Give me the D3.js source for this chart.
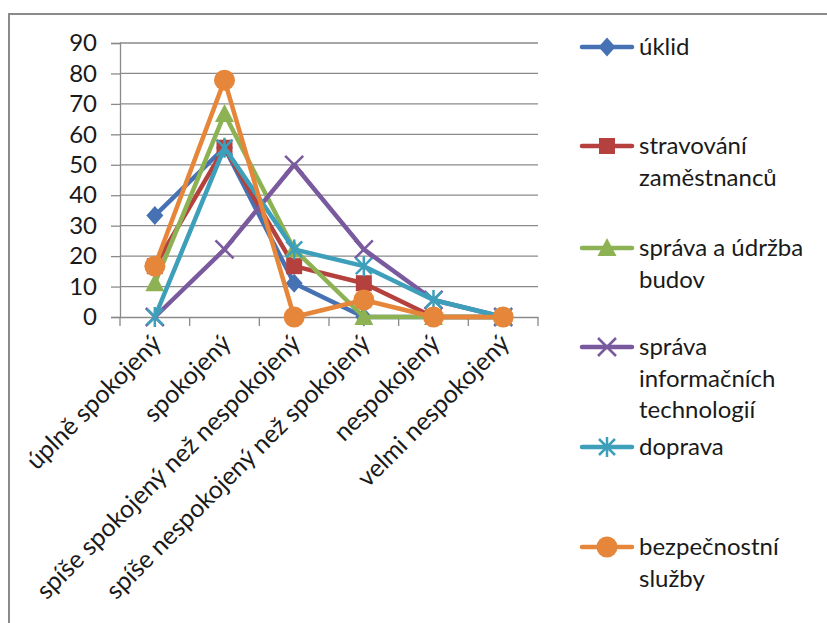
<!DOCTYPE html>
<html>
<head>
<meta charset="utf-8">
<script src="https://cdn.jsdelivr.net/npm/d3@7"></script>
<style>
  html, body { margin: 0; padding: 0; background: #fff; }
  svg text { font-family: Lato, "Open Sans", sans-serif; fill: #1a1a1a; }
</style>
</head>
<body>
<svg id="chart" width="827" height="623"></svg>
<script>
// ---- data ----
const categories = ["úplně spokojený", "spokojený", "spíše spokojený než nespokojený",
  "spíše nespokojený než spokojený", "nespokojený", "velmi nespokojený"];
const seriesNames = ["úklid", "stravování zaměstnanců", "správa a údržba budov",
  "správa informačních technologií", "doprava", "bezpečnostní služby"];
const legendLines = [["úklid"], ["stravování", "zaměstnanců"], ["správa a údržba", "budov"],
  ["správa", "informačních", "technologií"], ["doprava"], ["bezpečnostní", "služby"]];
const uklid = [33.3, 55.6, 11.1, 0, 0, 0];
const stravovani = [16.7, 55.6, 16.7, 11.1, 0, 0];
const budovy = [11.1, 66.7, 22.2, 0, 0, 0];
const it = [0, 22.2, 50, 22.2, 5.6, 0];
const doprava = [0, 55.6, 22.2, 16.7, 5.6, 0];
const bezpecnost = [16.7, 77.8, 0, 5.6, 0, 0];
const yTicks = [0, 10, 20, 30, 40, 50, 60, 70, 80, 90];

const seriesValues = [uklid, stravovani, budovy, it, doprava, bezpecnost];
const colors = ["#4672B4", "#B5413E", "#8DB254", "#7A5A9E", "#3E9FBB", "#E5863A"];
const markers = ["diamond", "square", "triangle", "x", "star", "circle"];

const svg = d3.select("#chart");

// outer border (top + left visible)
svg.append("path").attr("d", "M9,623 V14 H827")
  .attr("fill", "none").attr("stroke", "#8a8a8a").attr("stroke-width", 2);

const x = d3.scaleBand().domain(categories).range([120, 538]).padding(0);
const y = d3.scaleLinear().domain([0, 90]).range([317, 43]);
const cx = c => x(c) + x.bandwidth() / 2;

// gridlines + y axis
const yAxis = d3.axisLeft(y).tickValues(yTicks).tickSize(9).tickPadding(14);
const gy = svg.append("g").attr("transform", "translate(120,0)").call(yAxis);
gy.select(".domain").attr("stroke", "#8a8a8a").attr("stroke-width", 1.3);
gy.selectAll(".tick line").attr("stroke", "#8a8a8a").attr("stroke-width", 1.3);
gy.selectAll(".tick text").attr("font-size", 24).attr("fill", "#1a1a1a")
  .style("font-family", "Lato, 'Open Sans', sans-serif");
svg.append("g").selectAll("line").data(yTicks.filter(d => d > 0)).join("line")
  .attr("x1", 120).attr("x2", 538).attr("y1", d => y(d)).attr("y2", d => y(d))
  .attr("stroke", "#8a8a8a").attr("stroke-width", 1.3);

// x axis
const gx = svg.append("g").attr("transform", "translate(0,317)")
  .call(d3.axisBottom(x).tickSize(0).tickFormat(""));
gx.select(".domain").attr("stroke", "#8a8a8a").attr("stroke-width", 1.3);
const bounds = [...categories.map(c => x(c)), 538];
svg.append("g").selectAll("line").data(bounds).join("line")
  .attr("x1", d => d).attr("x2", d => d).attr("y1", 317).attr("y2", 326)
  .attr("stroke", "#8a8a8a").attr("stroke-width", 1.3);

svg.append("g").selectAll("text").data(categories).join("text")
  .attr("transform", d => `translate(${cx(d) + 8},${345}) rotate(-45)`)
  .attr("text-anchor", "end").attr("font-size", 25)
  .text(d => d);

// marker drawing
function drawMarker(g, type, color) {
  if (type === "diamond") {
    g.append("path").attr("d", "M0,-9.5 L8.5,0 L0,9.5 L-8.5,0 Z").attr("fill", color);
  } else if (type === "square") {
    g.append("rect").attr("x", -8).attr("y", -8).attr("width", 16).attr("height", 16).attr("fill", color);
  } else if (type === "triangle") {
    g.append("path").attr("d", "M0,-10 L9.5,8 L-9.5,8 Z").attr("fill", color);
  } else if (type === "circle") {
    g.append("circle").attr("r", 10.5).attr("fill", color);
  } else if (type === "x") {
    g.append("path").attr("d", "M-9,-9 L9,9 M-9,9 L9,-9").attr("stroke", color).attr("stroke-width", 2.5).attr("fill", "none");
  } else if (type === "star") {
    g.append("path").attr("d", "M-8,-8 L8,8 M-8,8 L8,-8 M0,-10 L0,10").attr("stroke", color).attr("stroke-width", 2.5).attr("fill", "none");
  }
}

const line = d3.line().x((d, i) => cx(categories[i])).y(d => y(d));

seriesValues.forEach((vals, s) => {
  const g = svg.append("g");
  g.append("path").datum(vals).attr("d", line).attr("fill", "none")
    .attr("stroke", colors[s]).attr("stroke-width", 4.5).attr("stroke-linejoin", "round");
  vals.forEach((v, i) => {
    const m = g.append("g").attr("transform", `translate(${cx(categories[i])},${y(v)})`);
    drawMarker(m, markers[s], colors[s]);
  });
});

// legend
const legendY = [47, 146, 248, 347, 447, 547];
seriesNames.forEach((name, s) => {
  const g = svg.append("g").attr("transform", `translate(0,${legendY[s]})`);
  g.append("line").attr("x1", 582).attr("x2", 632).attr("y1", 0).attr("y2", 0)
    .attr("stroke", colors[s]).attr("stroke-width", 4.5).attr("stroke-linecap", "round");
  const m = g.append("g").attr("transform", "translate(607,0)");
  drawMarker(m, markers[s], colors[s]);
  const t = g.append("text").attr("x", 639).attr("y", 8).attr("font-size", 24);
  legendLines[s].forEach((ln, k) => {
    t.append("tspan").attr("x", 639).attr("dy", k === 0 ? 0 : 31.5).text(ln);
  });
});
</script>
</body>
</html>
